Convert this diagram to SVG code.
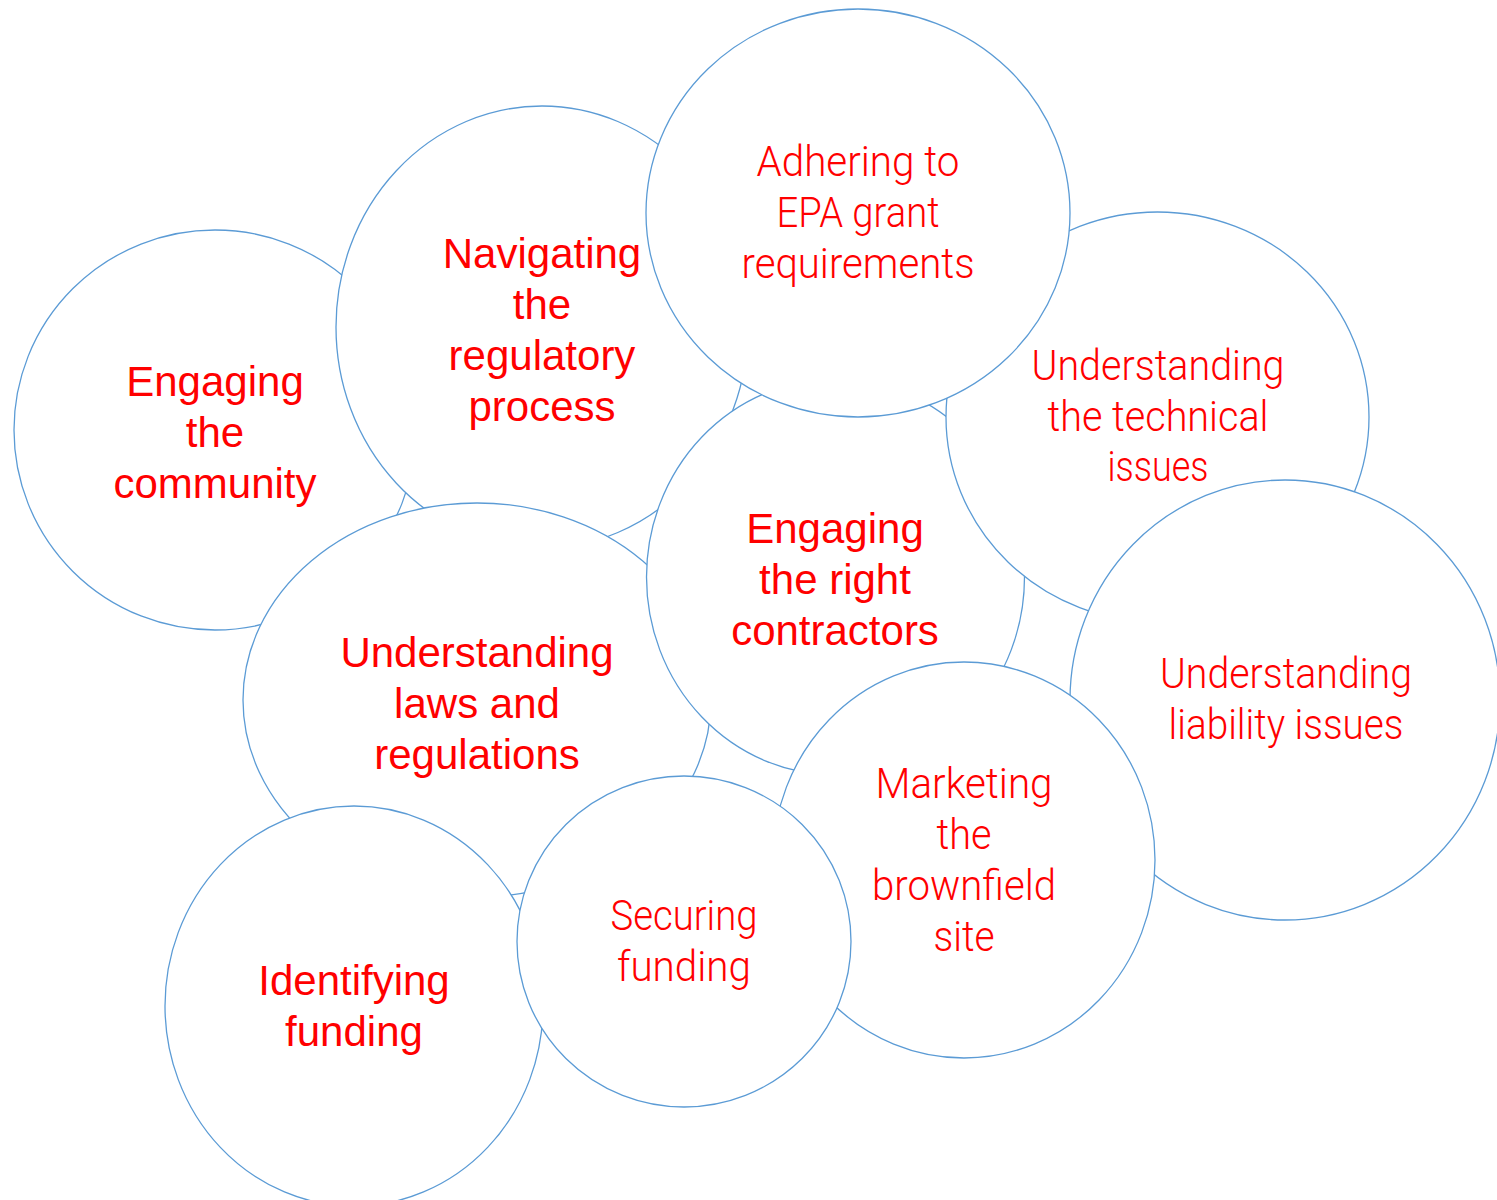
<svg xmlns="http://www.w3.org/2000/svg" width="1497" height="1200" viewBox="0 0 1497 1200">
<style>
.c{fill:#FFFFFF;stroke:#5B9BD5;stroke-width:1.3}
.a{font-family:"Liberation Sans",Arial,sans-serif;font-size:42px;fill:#FF0000;text-anchor:middle}
.n{font-family:Roboto,"Liberation Sans",sans-serif;font-weight:300;font-size:42px;fill:#FF0000;text-anchor:middle}
</style>
<rect width="1497" height="1200" fill="#FFFFFF"/>
<g id="community">
<ellipse class="c" cx="215" cy="430" rx="201" ry="200"/>
<text class="a" x="215" y="396">Engaging</text>
<text class="a" x="215" y="447">the</text>
<text class="a" x="215" y="498">community</text>
</g>
<g id="navigating">
<ellipse class="c" cx="542" cy="327" rx="206" ry="221"/>
<text class="a" x="542" y="268">Navigating</text>
<text class="a" x="542" y="319">the</text>
<text class="a" x="542" y="370">regulatory</text>
<text class="a" x="542" y="421">process</text>
</g>
<g id="laws">
<ellipse class="c" cx="477" cy="700" rx="234" ry="197"/>
<text class="a" x="477" y="667">Understanding</text>
<text class="a" x="477" y="718">laws and</text>
<text class="a" x="477" y="769">regulations</text>
</g>
<g id="contractors">
<ellipse class="c" cx="835.5" cy="577" rx="189" ry="198"/>
<text class="a" x="835" y="543">Engaging</text>
<text class="a" x="835" y="594">the right</text>
<text class="a" x="835" y="645">contractors</text>
</g>
<g id="technical">
<ellipse class="c" cx="1157.5" cy="417" rx="211.5" ry="205"/>
<text class="n" x="1158" y="380" textLength="253" lengthAdjust="spacingAndGlyphs">Understanding</text>
<text class="n" x="1158" y="431" textLength="221" lengthAdjust="spacingAndGlyphs">the technical</text>
<text class="n" x="1158" y="481" textLength="101" lengthAdjust="spacingAndGlyphs">issues</text>
</g>
<g id="adhering">
<ellipse class="c" cx="858" cy="213" rx="212" ry="204"/>
<text class="n" x="858" y="176" textLength="203" lengthAdjust="spacingAndGlyphs">Adhering to</text>
<text class="n" x="858" y="227" textLength="163" lengthAdjust="spacingAndGlyphs">EPA grant</text>
<text class="n" x="858" y="278" textLength="233" lengthAdjust="spacingAndGlyphs">requirements</text>
</g>
<g id="liability">
<ellipse class="c" cx="1285" cy="700" rx="215" ry="220"/>
<text class="n" x="1286" y="688" textLength="252" lengthAdjust="spacingAndGlyphs">Understanding</text>
<text class="n" x="1286" y="739" textLength="235" lengthAdjust="spacingAndGlyphs">liability issues</text>
</g>
<g id="marketing">
<ellipse class="c" cx="964" cy="860" rx="191" ry="198"/>
<text class="n" x="964" y="798" textLength="177" lengthAdjust="spacingAndGlyphs">Marketing</text>
<text class="n" x="964" y="849" textLength="55" lengthAdjust="spacingAndGlyphs">the</text>
<text class="n" x="964" y="900" textLength="184" lengthAdjust="spacingAndGlyphs">brownfield</text>
<text class="n" x="964" y="951" textLength="61" lengthAdjust="spacingAndGlyphs">site</text>
</g>
<g id="identifying">
<ellipse class="c" cx="354" cy="1006" rx="189" ry="200"/>
<text class="a" x="354" y="995">Identifying</text>
<text class="a" x="354" y="1046">funding</text>
</g>
<g id="securing">
<ellipse class="c" cx="684" cy="941.5" rx="167" ry="165.5"/>
<text class="n" x="684" y="930" textLength="147" lengthAdjust="spacingAndGlyphs">Securing</text>
<text class="n" x="684" y="981" textLength="134" lengthAdjust="spacingAndGlyphs">funding</text>
</g>
</svg>
